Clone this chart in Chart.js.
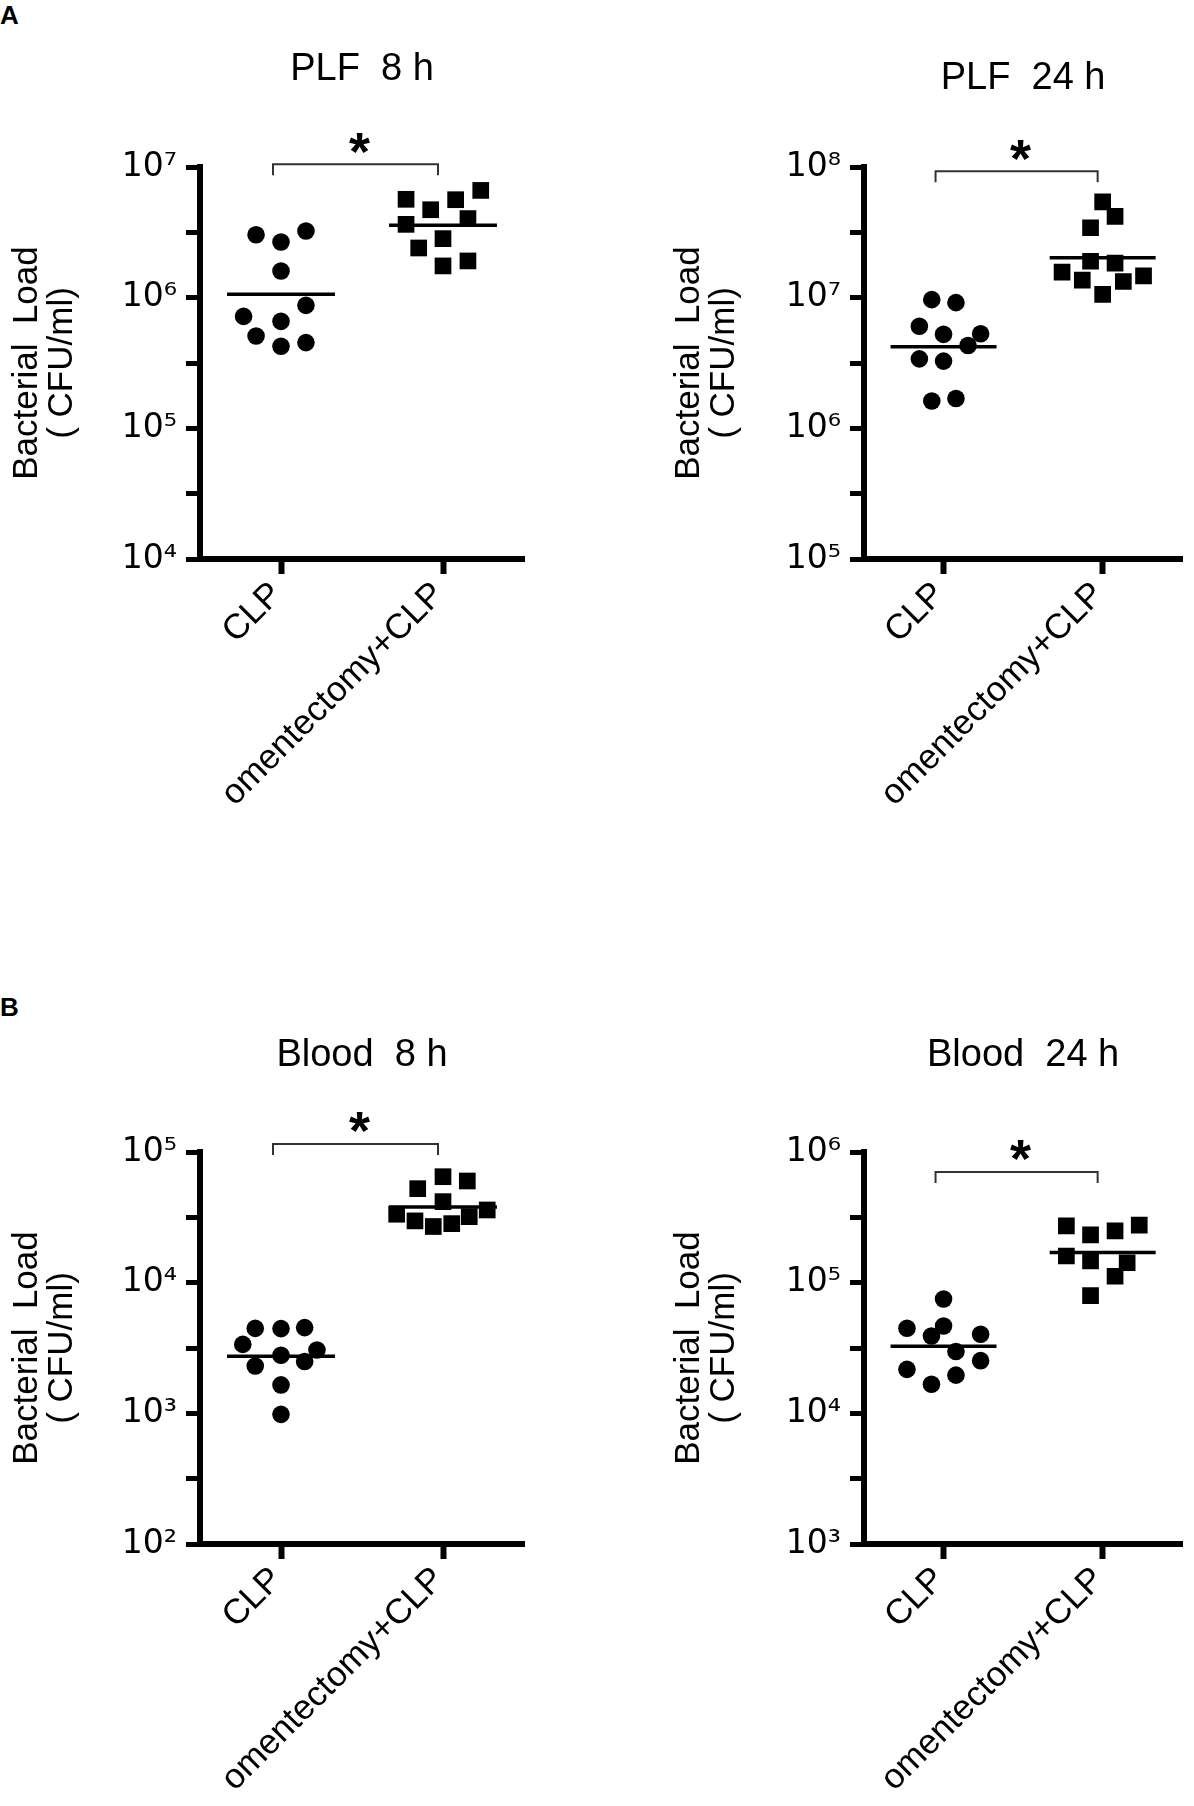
<!DOCTYPE html>
<html><head><meta charset="utf-8">
<script src="https://cdn.jsdelivr.net/npm/chart.js@4.4.1/dist/chart.umd.min.js"></script>
<style>
html,body{margin:0;padding:0;background:#fff;}
body{width:1194px;height:1806px;overflow:hidden;position:relative;font-family:"Liberation Sans",Arial,sans-serif;}
canvas{position:absolute;}
.lab{position:absolute;font-weight:bold;font-size:26px;line-height:26px;color:#000;}
</style></head><body>
<div class="lab" style="left:0px;top:2px">A</div>
<div class="lab" style="left:0px;top:994px">B</div>
<canvas id="c1" width="597" height="880" style="left:0;top:0"></canvas>
<canvas id="c2" width="597" height="880" style="left:597px;top:0"></canvas>
<canvas id="c3" width="597" height="936" style="left:0;top:870px"></canvas>
<canvas id="c4" width="597" height="936" style="left:597px;top:870px"></canvas>
<script>
// ---------------- data ----------------
const groups = ['CLP', 'omentectomy+CLP'];
const titles = ['PLF  8 h', 'PLF  24 h', 'Blood  8 h', 'Blood  24 h'];
const yLabel = ['Bacterial  Load', '( CFU/ml)'];
const yRanges = [[1e4, 1e7], [1e5, 1e8], [1e2, 1e5], [1e3, 1e6]];

// PLF 8 h
const plf8CLP  = [3.03e6, 2.67e6, 3.24e6, 1.60e6, 8.73e5, 7.19e5, 6.59e5, 5.09e5, 4.25e5, 4.53e5];
const plf8CLPx = [-0.154, 0, 0.154, 0, 0.154, -0.231, 0, -0.154, 0, 0.154];
const plf8Om   = [5.66e6, 4.71e6, 5.62e6, 6.62e6, 3.64e6, 4.03e6, 2.83e6, 2.40e6, 1.75e6, 1.91e6];
const plf8Omx  = [-0.228, -0.076, 0.078, 0.233, -0.228, 0.154, 0, -0.150, 0, 0.154];
const plf8Mean = [1.06e6, 3.58e6];

// PLF 24 h
const plf24CLP  = [9.66e6, 9.16e6, 6.04e6, 5.24e6, 5.30e6, 4.31e6, 3.40e6, 3.27e6, 1.62e6, 1.69e6];
const plf24CLPx = [-0.074, 0.078, -0.152, 0, 0.233, 0.154, -0.152, 0, -0.074, 0.078];
const plf24Om   = [5.40e7, 4.19e7, 3.43e7, 1.90e7, 1.84e7, 1.57e7, 1.36e7, 1.06e7, 1.33e7, 1.47e7];
const plf24Omx  = [0, 0.078, -0.076, -0.076, 0.078, -0.255, -0.128, 0, 0.130, 0.257];
const plf24Mean = [4.22e6, 2.02e7];

// Blood 8 h
const bl8CLP  = [4.47e3, 4.45e3, 4.53e3, 3.37e3, 3.05e3, 2.78e3, 2.30e3, 2.49e3, 1.65e3, 982];
const bl8CLPx = [-0.159, 0, 0.146, -0.236, 0.222, 0, -0.159, 0.146, 0, 0];
const bl8Om   = [5.24e4, 6.47e4, 6.00e4, 4.17e4, 3.34e4, 2.97e4, 2.69e4, 2.83e4, 3.20e4, 3.60e4];
const bl8Omx  = [-0.156, 0, 0.150, 0, -0.286, -0.173, -0.060, 0.054, 0.162, 0.273];
const bl8Mean = [2.73e3, 3.79e4];

// Blood 24 h
const bl24CLP  = [7.50e4, 4.48e4, 4.66e4, 3.91e4, 4.03e4, 2.97e4, 2.17e4, 2.53e4, 1.96e4, 1.67e4];
const bl24CLPx = [0, -0.230, 0, -0.076, 0.233, 0.078, -0.230, 0.233, 0.078, -0.076];
const bl24Om   = [2.72e5, 2.32e5, 2.49e5, 2.76e5, 1.60e5, 1.47e5, 1.42e5, 1.12e5, 7.96e4];
const bl24Omx  = [-0.228, -0.076, 0.078, 0.230, -0.228, -0.076, 0.154, 0.078, -0.076];
const bl24Mean = [3.26e4, 1.70e5];

// significance bracket heights (data units)
const bracketLevels = [1.05e7, 9.27e7, 1.15e5, 7.03e5];

// ---------------- rendering ----------------
const FONT = "'Liberation Sans', Arial, sans-serif";
const TICKFONT = "'DejaVu Sans', 'Liberation Sans', sans-serif";
const SUP = {'0':'\u2070','1':'\u00B9','2':'\u00B2','3':'\u00B3','4':'\u2074','5':'\u2075','6':'\u2076','7':'\u2077','8':'\u2078','9':'\u2079'};
const supStr = n => String(n).split('').map(c => SUP[c]).join('');
const MEAN_HALF = 0.333;

const sigPlugin = {
  id: 'sig',
  afterDatasetsDraw(chart, args, opts) {
    const {ctx, scales: {x, y}} = chart;
    const x0 = x.getPixelForValue(0) - 8, x1 = x.getPixelForValue(1) - 5;
    const yb = y.getPixelForValue(opts.level);
    ctx.save();
    ctx.strokeStyle = '#333'; ctx.lineWidth = 2;
    ctx.beginPath();
    ctx.moveTo(x0, yb + 11); ctx.lineTo(x0, yb); ctx.lineTo(x1, yb); ctx.lineTo(x1, yb + 11);
    ctx.stroke();
    ctx.fillStyle = '#000';
    ctx.font = 'bold 54px ' + FONT;
    ctx.textAlign = 'center'; ctx.textBaseline = 'alphabetic';
    ctx.fillText('*', (x0 + x1) / 2 + 4, yb - 26 + 0.58 * 54);
    ctx.restore();
  }
};

function makePanel(id, idx, clp, clpx, om, omx, means, area, titleCenter, ylabelX, XH) {
  const canvas = document.getElementById(id);
  const W = canvas.width, H = canvas.height;
  const [ymin, ymax] = yRanges[idx];
  const lo = Math.round(Math.log10(ymin)), hi = Math.round(Math.log10(ymax));
  const TS = 38, titleLH = 44;
  const YS = 35, yTitleLH = 35;
  return new Chart(canvas, {
    type: 'scatter',
    data: {
      datasets: [
        { data: clp.map((v, i) => ({x: 0 + clpx[i], y: v})), pointStyle: 'circle', pointRadius: 8.8,
          backgroundColor: '#000', borderColor: '#000', borderWidth: 0 },
        { data: om.map((v, i) => ({x: 1 + omx[i], y: v})), pointStyle: 'rect', pointRadius: 11.8,
          backgroundColor: '#000', borderColor: '#000', borderWidth: 0 },
        { data: [{x: -MEAN_HALF, y: means[0]}, {x: MEAN_HALF, y: means[0]}], showLine: true,
          pointRadius: 0, borderColor: '#000', borderWidth: 3.5 },
        { data: [{x: 1 - MEAN_HALF, y: means[1]}, {x: 1 + MEAN_HALF, y: means[1]}], showLine: true,
          pointRadius: 0, borderColor: '#000', borderWidth: 3.5 }
      ]
    },
    options: {
      responsive: false, animation: false, events: [],
      devicePixelRatio: 1,
      layout: { padding: { left: 0, top: 0, right: W - area.right, bottom: Math.max(0, H - area.bottom - XH) } },
      plugins: {
        legend: { display: false }, tooltip: { enabled: false },
        title: { display: true, text: titles[idx], fullSize: false, color: '#000',
          font: { family: FONT, size: TS, weight: 'normal', lineHeight: titleLH / TS },
          padding: { top: titleCenter - titleLH / 2, bottom: area.top - (titleCenter - titleLH / 2) - titleLH } },
        sig: { level: bracketLevels[idx] }
      },
      scales: {
        x: {
          type: 'linear', min: -0.5, max: 1.5,
          afterBuildTicks: s => { s.ticks = [{value: 0}, {value: 1}]; },
          afterFit: s => { s.height = XH; },
          ticks: { autoSkip: false, minRotation: 45, maxRotation: 45, padding: 0, labelOffset: -4, color: '#000',
            font: { family: FONT, size: 35 }, callback: v => groups[v] },
          grid: { display: true, drawOnChartArea: false, drawTicks: true, tickLength: 15, tickWidth: 6, tickColor: '#000' },
          border: { display: true, width: 6, color: '#000' }
        },
        y: {
          type: 'logarithmic', min: ymin, max: ymax,
          afterBuildTicks: s => {
            const t = [];
            for (let e = lo * 2; e <= hi * 2; e++) t.push({value: Math.pow(10, e / 2)});
            s.ticks = t;
          },
          afterFit: s => { s.width = area.left; },
          ticks: { autoSkip: false, padding: 9, color: '#000', font: { family: TICKFONT, size: 33 },
            callback: v => {
              const e = Math.log10(v), r = Math.round(e);
              return Math.abs(e - r) < 1e-6 ? '10' + supStr(r) : '';
            } },
          grid: { display: true, drawOnChartArea: false, drawTicks: true, tickLength: 14, tickWidth: 5, tickColor: '#000' },
          border: { display: true, width: 6, color: '#000' },
          title: { display: true, text: yLabel, color: '#000',
            font: { family: FONT, size: YS, lineHeight: yTitleLH / YS },
            padding: { top: ylabelX - yTitleLH / 2, bottom: 0 } }
        }
      }
    },
    plugins: [sigPlugin]
  });
}

makePanel('c1', 0, plf8CLP, plf8CLPx, plf8Om, plf8Omx, plf8Mean,
  {left: 200, right: 524, top: 167, bottom: 559}, 70, 27, 300);
makePanel('c2', 1, plf24CLP, plf24CLPx, plf24Om, plf24Omx, plf24Mean,
  {left: 267, right: 591, top: 167, bottom: 559}, 79, 92, 300);
makePanel('c3', 2, bl8CLP, bl8CLPx, bl8Om, bl8Omx, bl8Mean,
  {left: 200, right: 524, top: 282, bottom: 674}, 186, 27, 262);
makePanel('c4', 3, bl24CLP, bl24CLPx, bl24Om, bl24Omx, bl24Mean,
  {left: 267, right: 591, top: 282, bottom: 674}, 186, 92, 262);
</script>
</body></html>
